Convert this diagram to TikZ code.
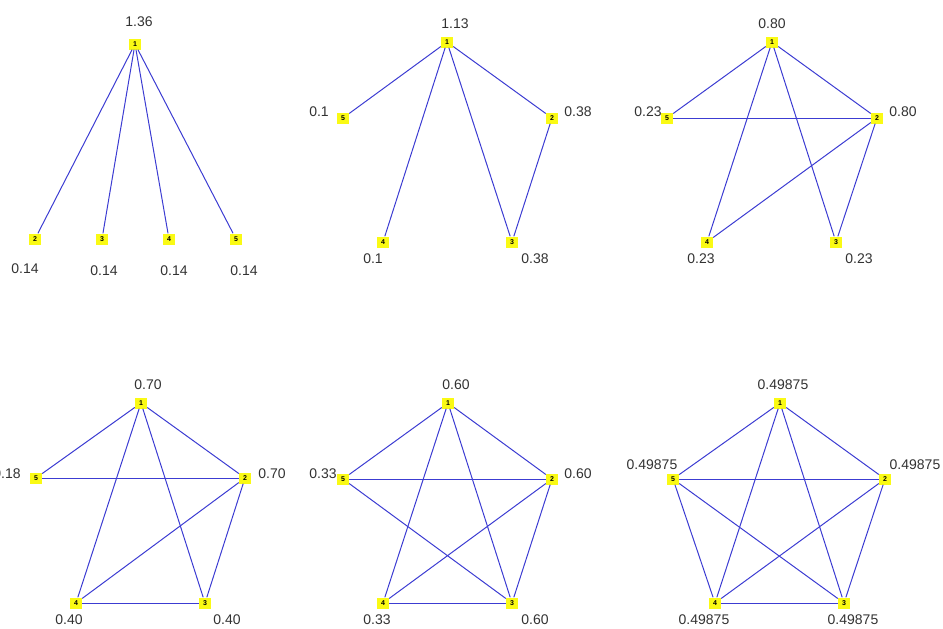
\documentclass[tikz,border=0pt]{standalone}
\usepackage{fontspec}
\setmainfont{Liberation Sans}
\definecolor{edgeblue}{RGB}{60,60,210}
\definecolor{vyellow}{RGB}{250,250,20}
\definecolor{labgray}{RGB}{50,50,50}
\tikzset{
  vtx/.style={fill=vyellow, draw=none, minimum width=12pt, minimum height=11pt, inner sep=0pt,
              font=\fontsize{7}{7}\selectfont\bfseries, text=black},
  val/.style={font=\fontsize{14}{14}\selectfont, text=labgray, inner sep=0pt},
  edg/.style={draw=edgeblue, line width=1pt}
}
\begin{document}
\begin{tikzpicture}[x=1pt,y=-1pt]
\useasboundingbox (0,0) rectangle (943,629);
% ---------- Panel 1 ----------
\node[vtx] (a1) at (135,44) {1};
\node[vtx] (a2) at (35,239) {2};
\node[vtx] (a3) at (102,239) {3};
\node[vtx] (a4) at (169,239) {4};
\node[vtx] (a5) at (236,239) {5};
\node[val] (la1) at (139,22) {1.36};
\node[val] (la2) at (25,269) {0.14};
\node[val] (la3) at (104,271) {0.14};
\node[val] (la4) at (174,271) {0.14};
\node[val] (la5) at (244,271) {0.14};
\draw[edg] (a1) -- (a2);
\draw[edg] (a1) -- (a3);
\draw[edg] (a1) -- (a4);
\draw[edg] (a1) -- (a5);
% ---------- Panel 2 ----------
\node[vtx] (b1) at (447,42) {1};
\node[vtx] (b2) at (552,118) {2};
\node[vtx] (b3) at (512,242) {3};
\node[vtx] (b4) at (383,242) {4};
\node[vtx] (b5) at (343,118) {5};
\node[val] (lb1) at (455,24) {1.13};
\node[val] (lb2) at (578,112) {0.38};
\node[val] (lb3) at (535,259) {0.38};
\node[val] (lb4) at (373,259) {0.1};
\node[val] (lb5) at (319,112) {0.1};
\draw[edg] (b1) -- (b5);
\draw[edg] (b1) -- (b2);
\draw[edg] (b1) -- (b4);
\draw[edg] (b1) -- (b3);
\draw[edg] (b2) -- (b3);
% ---------- Panel 3 ----------
\node[vtx] (c1) at (772,42) {1};
\node[vtx] (c2) at (877,118) {2};
\node[vtx] (c3) at (836,242) {3};
\node[vtx] (c4) at (707,242) {4};
\node[vtx] (c5) at (667,118) {5};
\node[val] (lc1) at (772,24) {0.80};
\node[val] (lc2) at (903,112) {0.80};
\node[val] (lc3) at (859,259) {0.23};
\node[val] (lc4) at (701,259) {0.23};
\node[val] (lc5) at (648,112) {0.23};
\draw[edg] (c1) -- (c5);
\draw[edg] (c1) -- (c2);
\draw[edg] (c5) -- (c2);
\draw[edg] (c1) -- (c4);
\draw[edg] (c1) -- (c3);
\draw[edg] (c2) -- (c4);
\draw[edg] (c2) -- (c3);
% ---------- Panel 4 ----------
\node[vtx] (d1) at (141,403) {1};
\node[vtx] (d2) at (245,478) {2};
\node[vtx] (d3) at (205,603) {3};
\node[vtx] (d4) at (76,603) {4};
\node[vtx] (d5) at (36,478) {5};
\node[val] (ld1) at (148,385) {0.70};
\node[val] (ld2) at (272,474) {0.70};
\node[val] (ld3) at (227,620) {0.40};
\node[val] (ld4) at (69,620) {0.40};
\node[val] (ld5) at (7,474) {0.18};
\draw[edg] (d1) -- (d5);
\draw[edg] (d1) -- (d2);
\draw[edg] (d5) -- (d2);
\draw[edg] (d1) -- (d4);
\draw[edg] (d1) -- (d3);
\draw[edg] (d2) -- (d4);
\draw[edg] (d2) -- (d3);
\draw[edg] (d4) -- (d3);
% ---------- Panel 5 ----------
\node[vtx] (e1) at (448,403) {1};
\node[vtx] (e2) at (552,479) {2};
\node[vtx] (e3) at (512,603) {3};
\node[vtx] (e4) at (383,603) {4};
\node[vtx] (e5) at (343,479) {5};
\node[val] (le1) at (456,385) {0.60};
\node[val] (le2) at (578,474) {0.60};
\node[val] (le3) at (535,620) {0.60};
\node[val] (le4) at (377,620) {0.33};
\node[val] (le5) at (323,474) {0.33};
\draw[edg] (e1) -- (e5);
\draw[edg] (e1) -- (e2);
\draw[edg] (e5) -- (e2);
\draw[edg] (e1) -- (e4);
\draw[edg] (e1) -- (e3);
\draw[edg] (e5) -- (e3);
\draw[edg] (e2) -- (e4);
\draw[edg] (e2) -- (e3);
\draw[edg] (e4) -- (e3);
% ---------- Panel 6 ----------
\node[vtx] (f1) at (780,403) {1};
\node[vtx] (f2) at (885,479) {2};
\node[vtx] (f3) at (844,603) {3};
\node[vtx] (f4) at (715,603) {4};
\node[vtx] (f5) at (673,479) {5};
\node[val] (lf1) at (783,385) {0.49875};
\node[val] (lf2) at (915,465) {0.49875};
\node[val] (lf3) at (853,620) {0.49875};
\node[val] (lf4) at (704,620) {0.49875};
\node[val] (lf5) at (652,465) {0.49875};
\draw[edg] (f1) -- (f5);
\draw[edg] (f1) -- (f2);
\draw[edg] (f5) -- (f2);
\draw[edg] (f1) -- (f4);
\draw[edg] (f1) -- (f3);
\draw[edg] (f5) -- (f3);
\draw[edg] (f5) -- (f4);
\draw[edg] (f2) -- (f4);
\draw[edg] (f2) -- (f3);
\draw[edg] (f4) -- (f3);
\end{tikzpicture}
\end{document}
